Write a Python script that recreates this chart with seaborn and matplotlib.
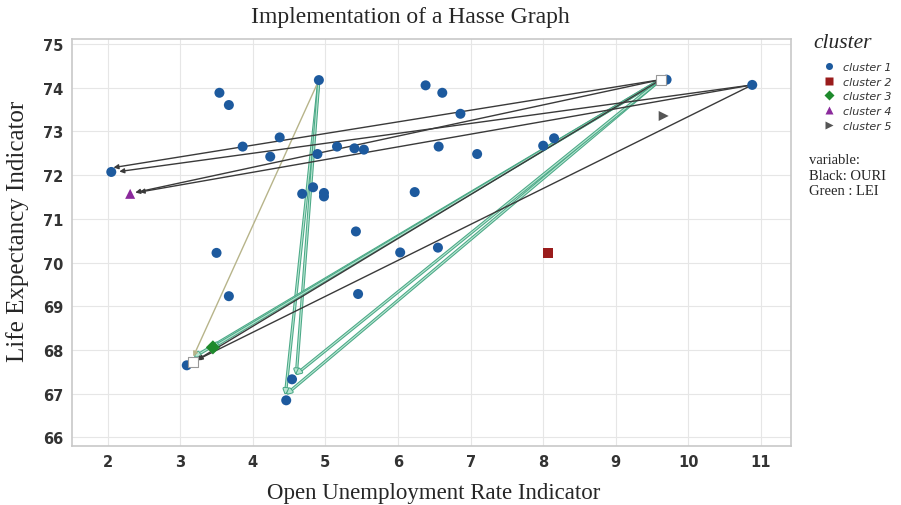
import matplotlib
matplotlib.use("Agg")
import matplotlib.pyplot as plt
import matplotlib.patheffects as pe
import seaborn as sns
import pandas as pd

# ---- data ----
c1_x = [2.05, 3.54, 3.67, 4.91, 6.38, 6.61, 6.86, 3.86, 4.37, 4.24, 4.89, 5.16, 5.40, 5.53,
        6.56, 4.83, 4.68, 4.98, 4.98, 6.23, 5.42, 3.50, 6.03, 6.55, 3.67, 5.45, 3.09, 4.54,
        4.46, 7.09, 8.00, 8.15, 9.70, 10.88]
c1_y = [72.07, 73.88, 73.60, 74.17, 74.05, 73.88, 73.40, 72.65, 72.86, 72.42, 72.48, 72.65,
        72.61, 72.58, 72.65, 71.72, 71.57, 71.59, 71.51, 71.61, 70.71, 70.22, 70.23, 70.34,
        69.23, 69.28, 67.65, 67.33, 66.85, 72.48, 72.67, 72.84, 74.18, 74.06]
c2_x, c2_y = [8.07], [70.22]
c3_x, c3_y = [3.45], [68.06]
c4_x, c4_y = [2.31], [71.57]
c5_x, c5_y = [9.66], [73.35]
clusters = ["cluster 1", "cluster 2", "cluster 3", "cluster 4", "cluster 5"]

# white (aggregate) nodes
white_x = [9.62, 3.18]
white_y = [74.18, 67.73]

# OURI edges (black): source -> target
ouri_src_x = [9.62, 9.62, 10.88, 10.88, 9.62, 10.88]
ouri_src_y = [74.18, 74.18, 74.06, 74.06, 74.18, 74.06]
ouri_dst_x = [2.08, 2.38, 2.16, 2.44, 3.22, 3.24]
ouri_dst_y = [72.17, 71.60, 72.08, 71.61, 67.76, 67.78]

# LEI edges (green): source -> target
lei_src_x = [4.91, 4.91, 9.62, 9.62, 9.62, 9.62]
lei_src_y = [74.17, 74.17, 74.18, 74.18, 74.18, 74.18]
lei_dst_x = [4.45, 4.60, 4.47, 4.60, 3.20, 3.45]
lei_dst_y = [67.00, 67.45, 67.00, 67.45, 67.85, 68.06]

# LEI weak edge (khaki)
weak_src_x, weak_src_y = [4.91], [74.17]
weak_dst_x, weak_dst_y = [3.18], [67.85]

xticks = list(range(2, 12))
yticks = list(range(66, 76))

# ---- frame ----
df = pd.DataFrame({
    "x": c1_x + c2_x + c3_x + c4_x + c5_x,
    "y": c1_y + c2_y + c3_y + c4_y + c5_y,
    "cluster": (["cluster 1"] * len(c1_x) + ["cluster 2"] * len(c2_x) + ["cluster 3"] * len(c3_x)
                + ["cluster 4"] * len(c4_x) + ["cluster 5"] * len(c5_x)),
})

sns.set_style("whitegrid")
fig = plt.figure(figsize=(9.01, 5.06), dpi=100)
ax = fig.add_axes([0.080, 0.117, 0.7976, 0.804])

palette = {"cluster 1": "#1d5a9e", "cluster 2": "#9a1c1c", "cluster 3": "#1e8a2c",
           "cluster 4": "#8b2a9c", "cluster 5": "#555555"}
markers = {"cluster 1": "o", "cluster 2": "s", "cluster 3": "D", "cluster 4": "^", "cluster 5": ">"}

# edges first
for sx, sy, dx, dy in zip(lei_src_x, lei_src_y, lei_dst_x, lei_dst_y):
    ann = ax.annotate("", xy=(dx, dy), xytext=(sx, sy),
                      arrowprops=dict(arrowstyle="-|>", color="#b8e6d2", lw=0.8,
                                      mutation_scale=7, shrinkA=0, shrinkB=0), zorder=2)
    ann.arrow_patch.set_path_effects([pe.Stroke(linewidth=2.3, foreground="#4aa886"), pe.Normal()])
for sx, sy, dx, dy in zip(weak_src_x, weak_src_y, weak_dst_x, weak_dst_y):
    ax.annotate("", xy=(dx, dy), xytext=(sx, sy),
                arrowprops=dict(arrowstyle="-|>", color="#b7b48a", lw=1.0,
                                mutation_scale=7, shrinkA=0, shrinkB=0), zorder=2)
for sx, sy, dx, dy in zip(ouri_src_x, ouri_src_y, ouri_dst_x, ouri_dst_y):
    ax.annotate("", xy=(dx, dy), xytext=(sx, sy),
                arrowprops=dict(arrowstyle="-|>", color="#3a3a3a", lw=1.0,
                                mutation_scale=7, shrinkA=0, shrinkB=0), zorder=3)

sns.scatterplot(data=df, x="x", y="y", hue="cluster", style="cluster", hue_order=clusters,
                style_order=clusters, palette=palette, markers=markers, s=52,
                edgecolor="none", ax=ax, zorder=4, legend=True)

ax.scatter(white_x, white_y, marker="s", s=55, facecolor="white", edgecolor="#999999",
           linewidth=0.8, zorder=5)

ax.set_xlim(1.51, 11.41)
ax.set_ylim(65.81, 75.11)
ax.set_xticks(xticks)
ax.set_yticks(yticks)
ax.tick_params(axis="both", labelsize=10.5, colors="#333333", length=0, pad=6)
for lab in ax.get_xticklabels() + ax.get_yticklabels():
    lab.set_fontweight("semibold")
ax.grid(True, color="#e6e6e6", lw=0.8)
for s in ax.spines.values():
    s.set_color("#c8c8c8")
    s.set_linewidth(1.2)

ax.set_xlabel("")
ax.set_ylabel("")
fig.text(410 / 901, 1 - 18 / 506, "Implementation of a Hasse Graph", family="Liberation Serif",
         fontsize=17, ha="center", va="center")
fig.text(433.5 / 901, 1 - 494 / 506, "Open Unemployment Rate Indicator", family="Liberation Serif",
         fontsize=16.5, ha="center", va="center")
fig.text(18 / 901, 1 - 231 / 506, "Life Expectancy Indicator", family="Liberation Serif",
         fontsize=18, ha="center", va="center", rotation=90)

handles, labels = ax.get_legend_handles_labels()
ax.legend_.remove()
leg = fig.legend(handles, labels, loc="upper left", bbox_to_anchor=(818 / 901, 1 - 63 / 506),
                 frameon=False, fontsize=8, markerscale=0.7, borderpad=0, borderaxespad=0,
                 handletextpad=0.25, labelspacing=0.42)
for t in leg.get_texts():
    t.set_fontstyle("italic")
    t.set_color("#333333")
fig.text(813 / 901, 1 - 44 / 506, "cluster", family="Liberation Serif", fontstyle="italic",
         fontsize=15.5, ha="left", va="center")

fig.text(0.898, 0.695, "variable:\nBlack: OURI\nGreen : LEI", family="Liberation Serif",
         fontsize=10.5, va="top", ha="left", linespacing=1.25)

fig.savefig("out.png", dpi=100)
